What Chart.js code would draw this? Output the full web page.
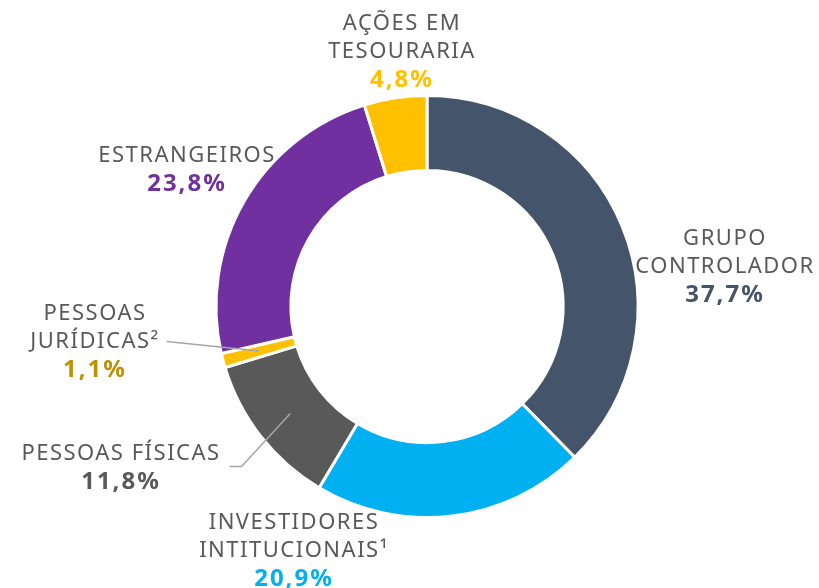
<!DOCTYPE html>
<html>
<head>
<meta charset="utf-8">
<script src="https://cdn.jsdelivr.net/npm/chart.js@4"></script>
<style>
  html, body { margin: 0; padding: 0; background: #fff; }
  #wrap { width: 819px; height: 588px; }
</style>
</head>
<body>
<div id="wrap"><canvas id="myDoughnut" width="819" height="588"></canvas></div>
<script>
// dados
var categorias = ['GRUPO\nCONTROLADOR', 'INVESTIDORES\nINTITUCIONAIS¹', 'PESSOAS FÍSICAS', 'PESSOAS\nJURÍDICAS²', 'ESTRANGEIROS', 'AÇÕES EM\nTESOURARIA'];
var percentuais = [37.7, 20.9, 11.8, 1.1, 23.8, 4.8];
var cores = ['#44546A', '#00B0F0', '#595959', '#FFC000', '#7030A0', '#FFC000'];
var coresTexto = ['#44546A', '#00B0F0', '#595959', '#BF9000', '#7030A0', '#FFC000'];

// posição de cada rótulo em relação ao centro do gráfico (dx, dy da primeira linha)
var posRotulos = [[297, -68], [-134, 216], [-307, 147], [-333, 7], [-241, -151], [-26, -283]];
// linha de chamada: índices que têm linha
var comLinha = { 2: true, 3: true };

var fonteNormal = '22px "Noto Sans", sans-serif';
var fonteNegrito = 'bold 24px "Noto Sans", sans-serif';

var rotulos = {
  id: 'rotulos',
  afterDatasetsDraw: function(chart) {
    var ctx = chart.ctx;
    var meta = chart.getDatasetMeta(0);
    var cx = meta.data[0].x, cy = meta.data[0].y;
    ctx.save();
    ctx.textAlign = 'center';
    ctx.textBaseline = 'middle';

    meta.data.forEach(function(arc, i) {
      var linhas = categorias[i].split('\n');
      var x = cx + posRotulos[i][0];
      var y = cy + posRotulos[i][1];
      ctx.font = fonteNormal;
      ctx.letterSpacing = '1.5px';
      ctx.fillStyle = '#595959';
      linhas.forEach(function(l, k) {
        ctx.fillText(l, x + 1, y + k * 28);
      });
      var yp = y + linhas.length * 28 + 1;
      ctx.font = fonteNegrito;
      ctx.letterSpacing = '2px';
      ctx.fillStyle = coresTexto[i];
      ctx.fillText(percentuais[i].toFixed(1).replace('.', ',') + '%', x + 1, yp);

      if (comLinha[i]) {
        var p = arc.getCenterPoint();
        var ultima = linhas[linhas.length - 1];
        ctx.font = fonteNormal;
        ctx.letterSpacing = '1.5px';
        var w = ctx.measureText(ultima).width;
        var ly = y + (linhas.length - 1) * 28;
        ctx.strokeStyle = '#A6A6A6';
        ctx.lineWidth = 1.5;
        ctx.beginPath();
        if (i === 2) {
          ctx.moveTo(x + w / 2 + 10, ly + 13);
          ctx.lineTo(x + w / 2 + 22, ly + 13);
        } else {
          ctx.moveTo(x + w / 2 + 8, ly);
        }
        ctx.lineTo(p.x, p.y);
        ctx.stroke();
      }
    });
    ctx.restore();
  }
};

var ctx = document.getElementById('myDoughnut').getContext('2d');
var grafico = new Chart(ctx, {
  type: 'doughnut',
  data: {
    labels: categorias,
    datasets: [{
      data: percentuais,
      backgroundColor: cores,
      borderColor: '#ffffff',
      borderWidth: 3
    }]
  },
  options: {
    responsive: false,
    animation: false,
    cutout: '64.5%',
    layout: { padding: { top: 94, bottom: 69, left: 35, right: 0 } },
    plugins: {
      legend: { display: false },
      tooltip: { enabled: false }
    }
  },
  plugins: [rotulos]
});
</script>
</body>
</html>
